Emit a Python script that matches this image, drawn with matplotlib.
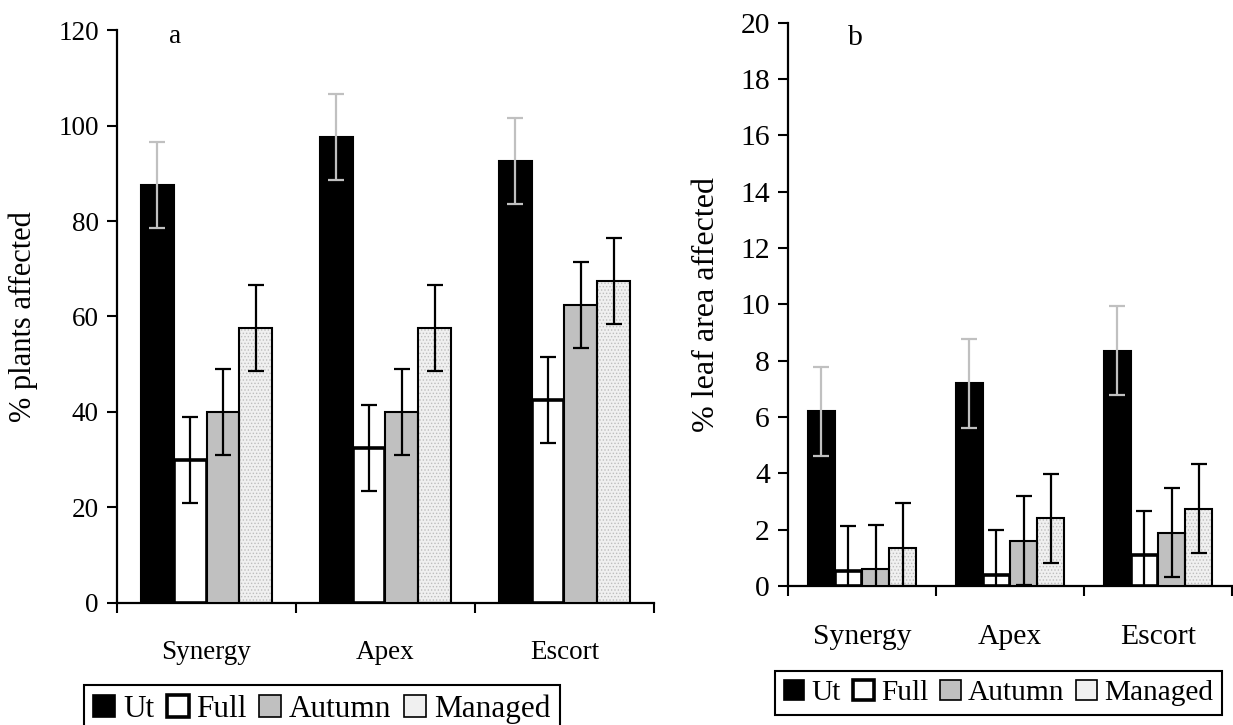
import matplotlib
matplotlib.use('Agg')
import matplotlib.pyplot as plt
from matplotlib.patches import Patch
import numpy as np

plt.rcParams['font.family'] = ['Liberation Serif', 'DejaVu Serif']
plt.rcParams['hatch.linewidth'] = 0.6

varieties = ['Synergy', 'Apex', 'Escort']
treatments = ['Ut', 'Full', 'Autumn', 'Managed']

# panel a: % plants affected
plants = {
    'Ut': [87.5, 97.5, 92.5],
    'Full': [30.0, 32.5, 42.5],
    'Autumn': [40.0, 40.0, 62.5],
    'Managed': [57.5, 57.5, 67.5],
}
plants_err = {
    'Ut': [9, 9, 9],
    'Full': [9, 9, 9],
    'Autumn': [9, 9, 9],
    'Managed': [9, 9, 9],
}

# panel b: % leaf area affected
leaf = {
    'Ut': [6.2, 7.2, 8.35],
    'Full': [0.55, 0.4, 1.1],
    'Autumn': [0.6, 1.6, 1.9],
    'Managed': [1.35, 2.4, 2.75],
}
leaf_err = {
    'Ut': [1.58, 1.58, 1.58],
    'Full': [1.58, 1.58, 1.58],
    'Autumn': [1.58, 1.58, 1.58],
    'Managed': [1.58, 1.58, 1.58],
}

face = {'Ut': 'black', 'Full': 'white', 'Autumn': '#c0c0c0', 'Managed': '#f0f0f0'}
edge_lw = {'Ut': 1.5, 'Full': 2.6, 'Autumn': 1.5, 'Managed': 1.5}
err_col = {'Ut': '#c0c0c0', 'Full': 'black', 'Autumn': 'black', 'Managed': 'black'}


def panel(ax, data, err, ymax, ystep, ylabel, letter, letter_xy, fs, lfs):
    x = np.arange(len(varieties))
    w = 0.1835
    for i, t in enumerate(treatments):
        pos = x + (i - 1.5) * w
        if t == 'Managed':
            ax.bar(pos, data[t], w, color=face[t], edgecolor='#bdbdbd',
                   hatch='.....', linewidth=0, zorder=2)
            ax.bar(pos, data[t], w, fill=False, edgecolor='black',
                   linewidth=edge_lw[t], zorder=3)
        else:
            ax.bar(pos, data[t], w, color=face[t], edgecolor='black',
                   linewidth=edge_lw[t], zorder=3)
        ax.errorbar(pos, data[t], yerr=err[t], fmt='none', ecolor=err_col[t],
                    elinewidth=1.6, capsize=5.5, capthick=1.6, zorder=4)

    ax.set_xlim(-0.5, len(varieties) - 0.5)
    ax.set_ylim(0, ymax)
    ax.set_yticks(np.arange(0, ymax + 0.01, ystep))
    ax.set_xticks(x)
    ax.set_xticklabels(varieties)
    ax.set_xticks(np.arange(-0.5, len(varieties)), minor=True)
    ax.tick_params(axis='x', which='major', length=0, pad=27, labelsize=fs)
    ax.tick_params(axis='x', which='minor', length=7, width=1.5, direction='out')
    ax.tick_params(axis='y', length=7, width=1.5, direction='out', labelsize=fs, pad=6)
    for s in ['top', 'right']:
        ax.spines[s].set_visible(False)
    for s in ['left', 'bottom']:
        ax.spines[s].set_linewidth(1.6)
    ax.set_ylabel(ylabel, fontsize=lfs)
    ax.text(letter_xy[0], letter_xy[1], letter, transform=ax.transAxes,
            fontsize=fs, ha='center', va='center')


def legend_handles():
    return [
        Patch(facecolor='black', edgecolor='black', linewidth=1.2),
        Patch(facecolor='white', edgecolor='black', linewidth=2.6),
        Patch(facecolor='#c0c0c0', edgecolor='black', linewidth=1.2),
        Patch(facecolor='#f0f0f0', edgecolor='black', linewidth=1.2),
    ]


fig = plt.figure(figsize=(12.33, 7.25), dpi=100)
ax1 = fig.add_axes([0.0949, 0.1683, 0.4355, 0.7903])
ax2 = fig.add_axes([0.6391, 0.1917, 0.3601, 0.7770])

panel(ax1, plants, plants_err, 120, 20, '% plants affected', 'a', (0.108, 0.988), 19.5, 22)
panel(ax2, leaf, leaf_err, 20, 2, '% leaf area affected', 'b', (0.151, 0.972), 21.3, 23)
ax1.yaxis.set_label_coords(-0.148, 0.5)
ax2.yaxis.set_label_coords(-0.152, 0.5)

leg1 = fig.legend(legend_handles(), treatments, loc='upper left',
                  bbox_to_anchor=(84 / 1233, 1 - 685 / 725), ncol=4, fontsize=22.5,
                  handlelength=0.7, handleheight=0.7, handletextpad=0.25,
                  columnspacing=0.4, borderpad=0.3, borderaxespad=0,
                  fancybox=False, edgecolor='black', framealpha=1)
leg1.get_frame().set_linewidth(1.5)

leg2 = fig.legend(legend_handles(), treatments, loc='upper left',
                  bbox_to_anchor=(775 / 1233, 1 - 671 / 725), ncol=4, fontsize=21.2,
                  handlelength=0.7, handleheight=0.7, handletextpad=0.25,
                  columnspacing=0.4, borderpad=0.3, borderaxespad=0,
                  fancybox=False, edgecolor='black', framealpha=1)
leg2.get_frame().set_linewidth(1.5)

fig.savefig('out.png', dpi=100)
